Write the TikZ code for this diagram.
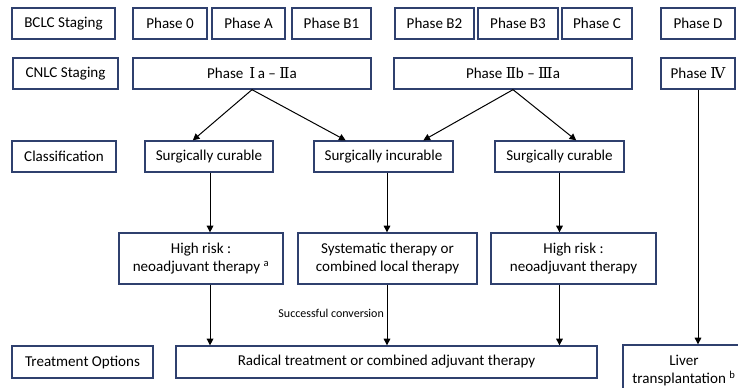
\documentclass[tikz,border=0pt]{standalone}
\usepackage{fontspec}
\setmainfont{Carlito}
\newfontfamily\rnfont{DejaVu Serif}
\usetikzlibrary{calc,arrows.meta}
\definecolor{boxline}{RGB}{47,64,110}
\newcommand{\RN}[1]{{\rnfont #1}}
% \bx{name}{x1}{y1}{x2}{y2}{text}  (pixel coordinates)
\newcommand{\bx}[6]{\node[box, minimum width={0.75pt*(#4-#2)}, minimum height={0.75pt*(#5-#3)}]
  (#1) at ({(#2+#4)/2},{(#3+#5)/2}) {#6};}
\begin{document}
\begin{tikzpicture}[x=0.75pt,y=-0.75pt,
  box/.style={draw=boxline, line width=1pt, inner sep=0pt, align=center,
    font=\fontsize{11.3}{13.8}\selectfont},
  arr/.style={-{Triangle[width=5pt,length=5pt]}, line width=0.75pt, black},
  small/.style={font=\fontsize{9}{10.8}\selectfont}]
\useasboundingbox (0,0) rectangle (738,387);
\clip (0,0) rectangle (738,387);
% row 1
\bx{bclc}{12}{8}{115}{39}{BCLC Staging}
\bx{p0}{133}{8}{207}{39}{Phase 0}
\bx{pA}{212}{8}{285}{39}{Phase A}
\bx{pB1}{292}{8}{371}{39}{Phase B1}
\bx{pB2}{395}{8}{474}{39}{Phase B2}
\bx{pB3}{478}{8}{558}{39}{Phase B3}
\bx{pC}{562}{8}{632}{39}{Phase C}
\bx{pD}{661}{8}{735}{39}{Phase D}
% row 2
\bx{cnlc}{13}{58}{118}{89}{CNLC Staging}
\bx{p1}{133}{58}{371}{89}{Phase \,\RN{Ⅰ}\,a – \RN{Ⅱ}a}
\bx{p2}{394}{58}{632}{89}{Phase \RN{Ⅱ}b – \RN{Ⅲ}a}
\bx{p4}{661}{58}{735}{89}{Phase \RN{Ⅳ}}
% row 3
\bx{cls}{12}{141}{116}{172}{Classification}
\bx{cur1}{145}{141}{273}{172}{Surgically curable}
\bx{inc}{314}{141}{453}{172}{Surgically incurable}
\bx{cur2}{495}{141}{624}{172}{Surgically curable}
% row 4
\bx{hr1}{119}{233}{283}{284}{High risk :\\neoadjuvant therapy \textsuperscript{a}}
\bx{sys}{298}{233}{477}{284}{Systematic therapy or\\combined local therapy}
\bx{hr2}{491}{233}{656}{284}{High risk :\\neoadjuvant therapy}
% row 5
\bx{trt}{12}{346}{153}{378}{Treatment Options}
\bx{rad}{176}{346}{597}{378}{Radical treatment or combined adjuvant therapy}
\bx{liv}{623}{345}{745}{396}{Liver\\transplantation \textsuperscript{b}}
% connectors
\draw[arr] (p1.south) -- ($(cur1.north west)!0.375!(cur1.north east)$);
\draw[arr] (p1.south) -- ($(inc.north west)!0.23!(inc.north east)$);
\draw[arr] (p2.south) -- ($(inc.north west)!0.784!(inc.north east)$);
\draw[arr] (p2.south) -- ($(cur2.north west)!0.628!(cur2.north east)$);
\coordinate (c1) at ($(cur1.south west)!0.508!(cur1.south east)$);
\coordinate (c2) at ($(inc.south west)!0.525!(inc.south east)$);
\coordinate (c3) at ($(cur2.south west)!0.5!(cur2.south east)$);
\draw[arr] (c1) -- (c1 |- hr1.north);
\draw[arr] (c2) -- (c2 |- sys.north);
\draw[arr] (c3) -- (c3 |- hr2.north);
\draw[arr] (c1 |- hr1.south) -- (c1 |- rad.north);
\draw[arr] (c2 |- sys.south) -- node[small, left, inner sep=2pt, pos=0.47] {Successful conversion} (c2 |- rad.north);
\draw[arr] (c3 |- hr2.south) -- (c3 |- rad.north);
\draw[arr] (p4.south) -- (p4.south |- liv.north);
\end{tikzpicture}
\end{document}
